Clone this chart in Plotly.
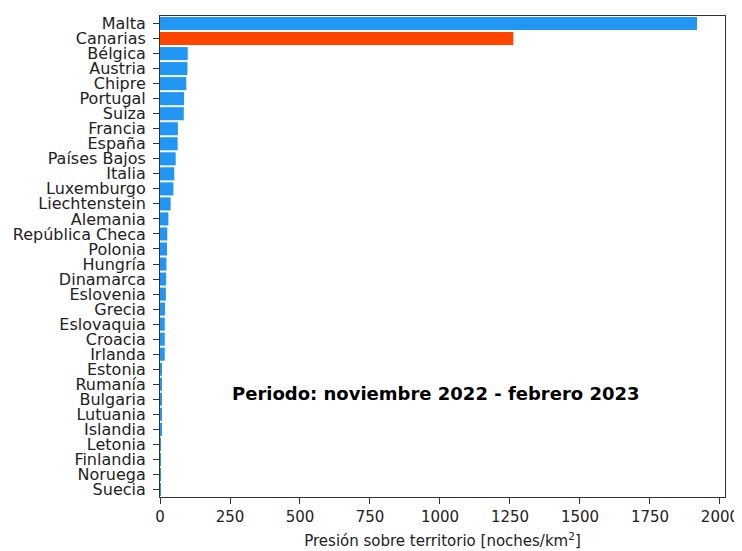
import plotly.graph_objects as go

countries = ["Malta", "Canarias", "Bélgica", "Austria", "Chipre", "Portugal", "Suiza",
             "Francia", "España", "Países Bajos", "Italia", "Luxemburgo", "Liechtenstein",
             "Alemania", "República Checa", "Polonia", "Hungría", "Dinamarca", "Eslovenia",
             "Grecia", "Eslovaquia", "Croacia", "Irlanda", "Estonia", "Rumanía", "Bulgaria",
             "Lutuania", "Islandia", "Letonia", "Finlandia", "Noruega", "Suecia"]
values = [1918, 1262, 99, 98, 94, 86, 85, 64, 63, 56, 51, 48, 38, 30, 26, 25, 23, 22, 21,
          18, 17, 17, 17, 6, 5, 5, 4, 4, 3, 1, 1, 0.5]
highlight = "Canarias"
x_ticks = [0, 250, 500, 750, 1000, 1250, 1500, 1750, 2000]
annotation_text = "<b>Periodo: noviembre 2022 - febrero 2023</b>"
x_title = "Presión sobre territorio [noches/km<sup>2</sup>]"

colors = ["#FF4500" if c == highlight else "#2196F3" for c in countries]

fig = go.Figure(go.Bar(
    x=values, y=countries, orientation="h",
    marker=dict(color=colors, line=dict(width=0)),
))

font_family = "DejaVu Sans"
fig.update_layout(
    width=734, height=543,
    margin=dict(l=152, r=17, t=8, b=54, autoexpand=False),
    plot_bgcolor="white", paper_bgcolor="white",
    bargap=0.13,
    showlegend=False,
    font=dict(family=font_family, color="#222", size=15),
    annotations=[dict(
        text=annotation_text, xref="paper", yref="paper", x=0.488, y=0.216,
        showarrow=False, font=dict(family=font_family, size=18, color="black"),
        xanchor="center", yanchor="middle",
    )],
)
fig.update_xaxes(
    range=[0, 2018], tickvals=x_ticks, ticks="outside", ticklen=6, tickcolor="#333",
    showline=True, linecolor="#333", linewidth=1, mirror=True, showgrid=False,
    zeroline=False, tickfont=dict(size=15), automargin=False,
    title=dict(text=x_title, font=dict(size=15), standoff=10),
)
fig.update_yaxes(
    autorange="reversed", tickmode="array", tickvals=countries, ticktext=countries,
    ticks="outside", ticklen=6, tickcolor="#333",
    showline=True, linecolor="#333", linewidth=1, mirror=True, showgrid=False,
    tickfont=dict(size=16), ticklabelstandoff=4, automargin=False,
)

fig.write_html("out.html")
